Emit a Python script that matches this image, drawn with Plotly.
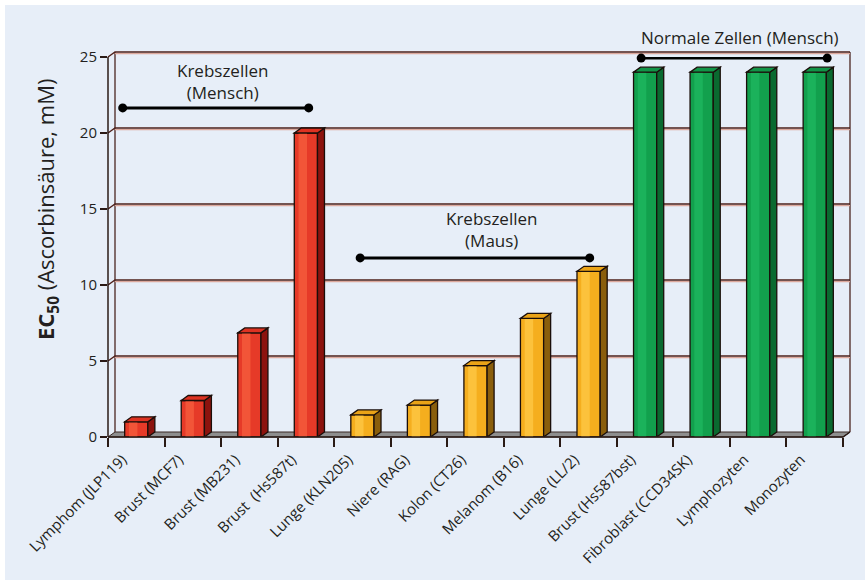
import plotly.graph_objects as go

# ---------------- data ----------------
categories = ["Lymphom (JLP119)", "Brust (MCF7)", "Brust (MB231)", "Brust\u00a0\u00a0(Hs587t)",
              "Lunge (KLN205)", "Niere (RAG)", "Kolon (CT26)", "Melanom (B16)", "Lunge (LL/2)",
              "Brust (Hs587bst)", "Fibroblast (CCD34SK)", "Lymphozyten", "Monozyten"]
ec50 = [1.0, 2.4, 6.85, 20.0, 1.45, 2.1, 4.7, 7.8, 10.9, 24.0, 24.0, 24.0, 24.0]
cell_group = ["mensch"] * 4 + ["maus"] * 5 + ["normal"] * 4
y_ticks = [0, 5, 10, 15, 20, 25]

group_labels = ["Krebszellen<br>(Mensch)", "Krebszellen<br>(Maus)", "Normale Zellen (Mensch)"]
group_label_x = [1.52, 6.29, 10.68]
group_label_y = [23.36, 13.62, 26.25]
bracket_x0 = [-0.24, 3.96, 8.93]
bracket_x1 = [3.05, 8.02, 12.22]
bracket_y = [21.65, 11.78, 24.93]

y_title = "<b>EC<sub>50</sub></b> (Ascorbinsäure, mM)"

# ---------------- style ----------------
W, H = 865, 580
ML, MT = 108, 57
PLOT_W, PLOT_H = 735, 380
MR = W - ML - PLOT_W
MB = H - MT - PLOT_H
N = len(categories)
Y_MAX = 25
DEPTH_XPX, DEPTH_YPX = 7, 5
dx = DEPTH_XPX / (PLOT_W / N)
dy = DEPTH_YPX / (PLOT_H / Y_MAX)
dxp = DEPTH_XPX / PLOT_W
dyp = DEPTH_YPX / PLOT_H
BAR_W = 0.41

BG = "#E7EEF8"
FONT = "Open Sans"
TXT = "#231F20"
palette = {
    "mensch": dict(front="#E63A28", hi="#F25538", side="#8C130E", top="#DD3222"),
    "maus":   dict(front="#F5AE1E", hi="#FCC23C", side="#8A5E0C", top="#EAA317"),
    "normal": dict(front="#12A04D", hi="#1BB25B", side="#0A6A30", top="#119447"),
}

def xp(x):
    return (x + 0.5) / N

def yp(y):
    return y / Y_MAX

shapes = []
# background panel (thin white border at top/left)
shapes.append(dict(type="rect", xref="paper", yref="paper", layer="below",
                   x0=(5 - ML) / PLOT_W, x1=(W - ML) / PLOT_W,
                   y0=-(MB) / PLOT_H, y1=(PLOT_H + MT - 5) / PLOT_H,
                   fillcolor=BG, line=dict(width=0)))
# floor
shapes.append(dict(type="path", xref="paper", yref="paper", layer="below",
                   path=f"M {xp(-0.5)},{yp(0)} L {xp(N-0.5)},{yp(0)} L {xp(N-0.5)+dxp},{yp(0)+dyp} "
                        f"L {xp(-0.5)+dxp},{yp(0)+dyp} Z",
                   fillcolor="#8E8E8E", line=dict(color="#3A2A26", width=1)))
# back wall verticals
for xv in (-0.5, N - 0.5):
    shapes.append(dict(type="line", xref="paper", yref="paper", layer="below",
                       x0=xp(xv) + dxp, x1=xp(xv) + dxp, y0=yp(0) + dyp, y1=yp(Y_MAX) + dyp,
                       line=dict(color="#4A2520", width=1.3)))
# gridlines on back wall with diagonal connectors
for t in y_ticks[1:]:
    shapes.append(dict(type="path", xref="paper", yref="paper", layer="below",
                       path=f"M {xp(-0.5)+dxp},{yp(t)+dyp-1.6/PLOT_H} L {xp(N-0.5)+dxp},{yp(t)+dyp-1.6/PLOT_H}",
                       line=dict(color="#DCA89C", width=1.2)))
    shapes.append(dict(type="path", xref="paper", yref="paper", layer="below",
                       path=f"M {xp(-0.5)},{yp(t)} L {xp(-0.5)+dxp},{yp(t)+dyp} L {xp(N-0.5)+dxp},{yp(t)+dyp}",
                       line=dict(color="#4E201A", width=1.4)))

# 3D faces of bars
for i, (v, g) in enumerate(zip(ec50, cell_group)):
    c = palette[g]
    xl, xr = i - BAR_W / 2, i + BAR_W / 2
    shapes.append(dict(type="path", xref="x", yref="y", layer="above",
                       path=f"M {xr},0 L {xr},{v} L {xr+dx},{v+dy} L {xr+dx},{dy} Z",
                       fillcolor=c["side"], line=dict(color="#1A0E0A", width=1.3)))
    shapes.append(dict(type="path", xref="x", yref="y", layer="above",
                       path=f"M {xl},{v} L {xr},{v} L {xr+dx},{v+dy} L {xl+dx},{v+dy} Z",
                       fillcolor=c["top"], line=dict(color="#1A0E0A", width=1.3)))

# front axis lines
shapes.append(dict(type="line", xref="paper", yref="paper", layer="above",
                   x0=xp(-0.5), x1=xp(-0.5), y0=yp(0), y1=yp(Y_MAX),
                   line=dict(color="#2A1A16", width=1.5)))
shapes.append(dict(type="path", xref="paper", yref="paper", layer="above",
                   path=f"M {xp(-0.5)},{yp(0)} L {xp(N-0.5)},{yp(0)} L {xp(N-0.5)+dxp},{yp(0)+dyp}",
                   line=dict(color="#2A1A16", width=1.5)))

fig = go.Figure()
xs = list(range(N))
fig.add_trace(go.Bar(x=xs, y=ec50, width=BAR_W,
                     marker=dict(color=[palette[g]["front"] for g in cell_group],
                                 line=dict(color="#1A0E0A", width=1.3)),
                     showlegend=False, hoverinfo="skip"))
fig.add_trace(go.Bar(x=xs, y=ec50, width=0.15, offset=-0.13,
                     marker=dict(color=[palette[g]["hi"] for g in cell_group], line=dict(width=0)),
                     showlegend=False, hoverinfo="skip"))

# group brackets
for x0, x1, yb in zip(bracket_x0, bracket_x1, bracket_y):
    fig.add_trace(go.Scatter(x=[x0, x1], y=[yb, yb], mode="lines+markers",
                             line=dict(color="black", width=3),
                             marker=dict(color="black", size=9),
                             cliponaxis=False, showlegend=False, hoverinfo="skip"))

annotations = []
for txt, gx, gy in zip(group_labels, group_label_x, group_label_y):
    annotations.append(dict(x=gx, y=yp(gy), xref="x", yref="paper", text=txt, showarrow=False,
                            xanchor="center", yanchor="middle",
                            font=dict(family=FONT, size=17, color=TXT), align="center"))
annotations.append(dict(x=(47 - ML) / PLOT_W, y=(PLOT_H - (210 - MT)) / PLOT_H,
                        xref="paper", yref="paper", text=y_title, textangle=-90,
                        showarrow=False, xanchor="center", yanchor="middle",
                        font=dict(family=FONT, size=22, color=TXT)))

fig.update_layout(
    width=W, height=H,
    margin=dict(l=ML, r=MR, t=MT, b=MB, pad=0),
    paper_bgcolor="white", plot_bgcolor=BG,
    barmode="overlay",
    shapes=shapes, annotations=annotations,
    font=dict(family=FONT, color=TXT),
    xaxis=dict(range=[-0.5, N - 0.5], tickvals=xs, ticktext=categories,
               tickangle=-45, ticks="", showgrid=False, zeroline=False, showline=False,
               tickfont=dict(family=FONT, size=15, color=TXT),
               ticklabelshift=-14, ticklabelstandoff=10,
               minor=dict(tickmode="linear", tick0=-0.5, dtick=1, ticks="outside",
                          ticklen=9, tickwidth=1.5, tickcolor="#2A1A16", showgrid=False),
               fixedrange=True),
    yaxis=dict(range=[0, Y_MAX], tickvals=y_ticks, ticks="outside", ticklen=7, tickwidth=1.5,
               tickcolor="#2A1A16", showgrid=False, zeroline=False, showline=False,
               tickfont=dict(family=FONT, size=15, color=TXT), fixedrange=True),
)

fig.write_html("out.html")
